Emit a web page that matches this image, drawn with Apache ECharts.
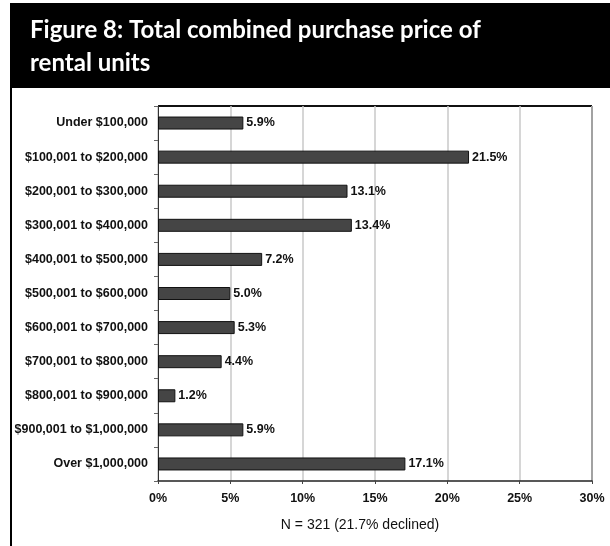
<!DOCTYPE html>
<html>
<head>
<meta charset="utf-8">
<script src="https://cdn.jsdelivr.net/npm/echarts@6/dist/echarts.min.js"></script>
<style>
  html, body { margin: 0; padding: 0; background: #fff; }
  #chart { width: 610px; height: 546px; }
</style>
</head>
<body>
<div id="chart"></div>
<script>
// Price bands (top to bottom) and share of respondents in each
const categories = [
  'Under $100,000',
  '$100,001 to $200,000',
  '$200,001 to $300,000',
  '$300,001 to $400,000',
  '$400,001 to $500,000',
  '$500,001 to $600,000',
  '$600,001 to $700,000',
  '$700,001 to $800,000',
  '$800,001 to $900,000',
  '$900,001 to $1,000,000',
  'Over $1,000,000'
];
const shares = [5.9, 21.5, 13.1, 13.4, 7.2, 5.0, 5.3, 4.4, 1.2, 5.9, 17.1];
const titleLines = ['Figure 8: Total combined purchase price of', 'rental units'];
const footnote = 'N = 321 (21.7% declined)';

const chart = echarts.init(document.getElementById('chart'), null, { renderer: 'canvas' });

const labelFont = 'Arial, "Liberation Sans", sans-serif';
const titleFont = 'bold 24px Lato, "Open Sans", sans-serif';

chart.setOption({
  backgroundColor: '#ffffff',
  animation: false,
  grid: { left: 158, top: 106, right: 18, bottom: 65, containLabel: false },
  xAxis: {
    type: 'value',
    min: 0,
    max: 30,
    interval: 5,
    axisLine: { show: true, lineStyle: { color: '#222', width: 1.5 } },
    axisTick: { show: true, length: 3, lineStyle: { color: '#444' } },
    axisLabel: {
      formatter: '{value}%',
      fontFamily: labelFont,
      fontWeight: 'bold',
      fontSize: 12.5,
      color: '#111',
      margin: 11
    },
    splitLine: { show: true, lineStyle: { color: '#c8c8c8', width: 1.5 } }
  },
  yAxis: {
    type: 'category',
    data: categories,
    inverse: true,
    axisLine: { show: true, lineStyle: { color: '#333', width: 1 } },
    axisTick: { show: true, length: 4, lineStyle: { color: '#666' } },
    axisLabel: {
      fontFamily: labelFont,
      fontWeight: 'bold',
      fontSize: 12.5,
      color: '#111',
      margin: 10
    },
    splitLine: { show: false }
  },
  series: [{
    type: 'bar',
    data: shares,
    barWidth: 13,
    itemStyle: { color: '#454545', borderColor: '#111', borderWidth: 1 },
    label: {
      show: true,
      position: 'right',
      distance: 3,
      formatter: p => p.value.toFixed(1) + '%',
      fontFamily: labelFont,
      fontWeight: 'bold',
      fontSize: 12.5,
      color: '#111'
    }
  }],
  graphic: [
    // header band
    { type: 'rect', left: 10, top: 3, shape: { width: 600, height: 85 }, style: { fill: '#000' }, silent: true },
    { type: 'text', left: 30, top: 18, style: { text: titleLines[0], fill: '#fff', font: titleFont } },
    { type: 'text', left: 30, top: 51, style: { text: titleLines[1], fill: '#fff', font: titleFont } },
    // left rule below header
    { type: 'rect', left: 10, top: 88, shape: { width: 2, height: 458 }, style: { fill: '#000' }, silent: true },
    // top and right frame of the plot area
    { type: 'line', shape: { x1: 158, y1: 106, x2: 592, y2: 106 }, style: { stroke: '#111', lineWidth: 2 }, silent: true },
    { type: 'line', shape: { x1: 592, y1: 106, x2: 592, y2: 481 }, style: { stroke: '#333', lineWidth: 2 }, silent: true },
    // footnote
    { type: 'text', x: 360, y: 518, style: { text: footnote, fill: '#111', font: '14px Arial, "Liberation Sans", sans-serif', align: 'center' } }
  ]
});
</script>
</body>
</html>
